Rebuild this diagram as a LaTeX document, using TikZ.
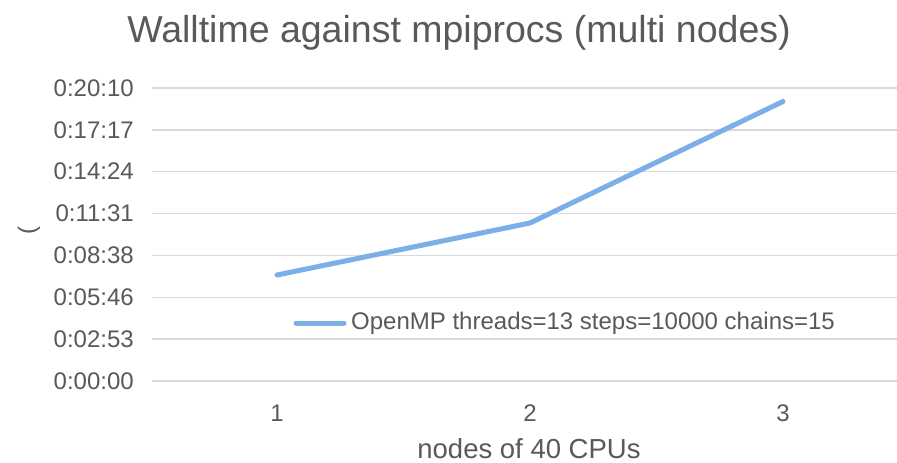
\documentclass[tikz,border=0pt]{standalone}
\usepackage{fontspec}
\setmainfont{Liberation Sans}
\definecolor{txtgray}{HTML}{595959}
\definecolor{gridgray}{HTML}{D9D9D9}
\definecolor{seriesblue}{HTML}{7CAFE8}
\tikzset{
  gridline/.style={draw=gridgray, line width=1.4pt},
  ylab/.style={anchor=east, text=txtgray, font=\fontsize{24}{24}\selectfont, inner sep=0pt},
  xlab/.style={anchor=base, text=txtgray, font=\fontsize{24}{24}\selectfont, inner sep=0pt},
  series/.style={draw=seriesblue, line width=5pt, line cap=round, line join=round},
}
\begin{document}
\begin{tikzpicture}[x=1pt, y=-1pt]
  \useasboundingbox (0,0) rectangle (897,463);
  \fill[white] (0,0) rectangle (897,463);

  % title
  \node[anchor=base, text=txtgray, font=\fontsize{37.5}{37.5}\selectfont, inner sep=0pt] (title) at (459,42) {Walltime against mpiprocs (multi nodes)};

  % horizontal gridlines and value labels
  \foreach \i/\lab in {0/0:00:00, 1/0:02:53, 2/0:05:46, 3/0:08:38, 4/0:11:31, 5/0:14:24, 6/0:17:17, 7/0:20:10} {
    \coordinate (gl\i) at (152,{381-41.86*\i});
    \coordinate (gr\i) at (897,{381-41.86*\i});
    \draw[gridline] (gl\i) -- (gr\i);
    \node[ylab] (yl\i) at (134,{381-41.86*\i}) {\lab};
  }

  % value axis title
  \node[text=txtgray, font=\fontsize{24}{24}\selectfont, rotate=90, inner sep=0pt] (ytitle) at (29,231) {(};

  % category labels
  \node[xlab] (c1) at (277,421) {1};
  \node[xlab] (c2) at (530,421) {2};
  \node[xlab] (c3) at (783,421) {3};
  \node[xlab, font=\fontsize{27.5}{27.5}\selectfont] (xtitle) at (529,458.5) {nodes of 40 CPUs};

  % data series
  \coordinate (p1) at (277,275);
  \coordinate (p2) at (530,223);
  \coordinate (p3) at (783,101.5);
  \draw[series] (p1) -- (p2) -- (p3);

  % legend
  \coordinate (lg1) at (296,323);
  \coordinate (lg2) at (344,323);
  \draw[series] (lg1) -- (lg2);
  \node[anchor=west, text=txtgray, font=\fontsize{24}{24}\selectfont, inner sep=0pt] (legtext) at (351,323) {OpenMP threads=13 steps=10000 chains=15};
\end{tikzpicture}
\end{document}
